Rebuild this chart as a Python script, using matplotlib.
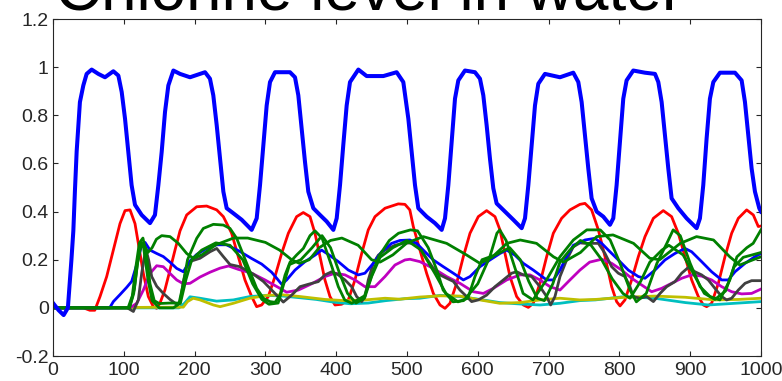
import matplotlib
matplotlib.use("Agg")
import matplotlib.pyplot as plt
import numpy as np

plt.rcParams["font.family"] = ["Liberation Sans", "DejaVu Sans"]

TITLE = "Chlorine level in water"
X_TICKS = [0, 100, 200, 300, 400, 500, 600, 700, 800, 900, 1000]
Y_TICKS = [-0.2, 0, 0.2, 0.4, 0.6, 0.8, 1.0, 1.2]
Y_TICK_LABELS = ["-0.2", "0", "0.2", "0.4", "0.6", "0.8", "1", "1.2"]

# (time step, chlorine level) samples for each monitored node
NODE_MAIN = [
    (0, 0.02), (8, -0.01), (15, -0.03), (21, 0.0), (26, 0.2), (28.7, 0.32), (31, 0.49),
    (33.4, 0.65), (38, 0.855), (42.8, 0.924), (47.5, 0.972), (54.6, 0.99), (64, 0.972),
    (73.4, 0.958), (85.2, 0.983), (92.3, 0.965), (97, 0.897), (101.7, 0.786), (106.4, 0.648),
    (111, 0.51), (115.8, 0.428), (125.2, 0.386), (137, 0.352), (144, 0.386), (148.8, 0.51),
    (153.5, 0.648), (158.2, 0.814), (162.9, 0.924), (170, 0.986), (179.4, 0.972), (193.5, 0.958),
    (214.7, 0.979), (221.7, 0.952), (226.4, 0.883), (231.2, 0.759), (235.9, 0.62), (240.6, 0.483),
    (245.3, 0.414), (254.7, 0.393), (266.5, 0.366), (280.6, 0.324), (287.7, 0.372), (292.4, 0.51),
    (297.1, 0.676), (301.8, 0.841), (306.5, 0.938), (313.6, 0.979), (334.7, 0.979), (341.8, 0.958),
    (346.5, 0.883), (351.2, 0.745), (355.9, 0.607), (360.6, 0.483), (367.7, 0.414), (377.1, 0.386),
    (386.5, 0.359), (396, 0.324), (400.7, 0.372), (405.4, 0.51), (410, 0.676), (414.8, 0.841),
    (419.5, 0.938), (431.3, 0.99), (443, 0.963), (466.6, 0.963), (485.4, 0.979), (494.8, 0.938),
    (501.9, 0.786), (506.6, 0.648), (511.3, 0.51), (516, 0.414), (527.8, 0.379), (539.5, 0.352),
    (549, 0.324), (553.7, 0.372), (558.4, 0.51), (563.1, 0.69), (567.8, 0.869), (572.5, 0.945),
    (581.9, 0.986), (596, 0.979), (603.1, 0.952), (607.8, 0.883), (612.5, 0.759), (617.2, 0.62),
    (621.9, 0.497), (626.6, 0.434), (638.4, 0.4), (650.2, 0.366), (662, 0.331), (666.7, 0.372),
    (671.4, 0.51), (676.1, 0.676), (680.8, 0.841), (685.5, 0.931), (694.9, 0.972), (716.1, 0.958),
    (734.9, 0.977), (742, 0.938), (746.7, 0.855), (751.4, 0.717), (756.1, 0.579), (760.8, 0.455),
    (767.9, 0.4), (777.3, 0.379), (786.7, 0.345), (791.4, 0.372), (796.1, 0.51), (800.8, 0.69),
    (805.5, 0.869), (810.2, 0.945), (819.6, 0.986), (836.1, 0.977), (850.3, 0.972), (855, 0.938),
    (859.7, 0.855), (864.4, 0.717), (869.1, 0.579), (873.8, 0.455), (883.2, 0.414), (895, 0.372),
    (909.1, 0.331), (913.8, 0.372), (918.5, 0.51), (923.2, 0.703), (927.9, 0.869), (932.7, 0.938),
    (942.1, 0.977), (963.3, 0.977), (972.7, 0.945), (977.4, 0.855), (982.1, 0.717), (986.8, 0.579),
    (991.5, 0.483), (997.6, 0.414), (1000, 0.40),
]

NODE_BLUE = [
    (0, 0), (80, 0), (85.2, 0.026), (94.6, 0.055), (104, 0.085), (111.1, 0.11), (118.2, 0.18),
    (125.2, 0.262), (130, 0.272), (137, 0.24), (146.4, 0.226), (155.8, 0.213), (165.2, 0.19),
    (174.7, 0.164), (184.1, 0.15), (193.5, 0.195), (203, 0.222), (217, 0.247), (231.2, 0.262),
    (245, 0.262), (261.7, 0.238), (280.6, 0.205), (294.7, 0.182), (308.8, 0.148), (316, 0.123),
    (323, 0.098), (330, 0.116), (341.8, 0.157), (355.9, 0.192), (370, 0.219), (379.4, 0.24),
    (388.9, 0.222), (403, 0.192), (417.1, 0.157), (431.2, 0.137), (440.6, 0.144), (452.4, 0.185),
    (464.2, 0.233), (478.3, 0.268), (490, 0.28), (504.2, 0.282), (513.6, 0.268), (523, 0.24),
    (537.2, 0.199), (551.3, 0.171), (565.4, 0.144), (579.6, 0.116), (589, 0.13), (603.1, 0.171),
    (617.2, 0.199), (631.3, 0.226), (640.8, 0.24), (652.5, 0.219), (664.3, 0.185), (678.4, 0.157),
    (697.3, 0.116), (706.7, 0.116), (716.1, 0.157), (725.5, 0.213), (735, 0.26), (751.4, 0.282),
    (765.5, 0.289), (775, 0.268), (784.4, 0.24), (798.5, 0.199), (812.6, 0.157), (826.8, 0.13),
    (836.2, 0.123), (850.3, 0.157), (864.4, 0.199), (878.5, 0.226), (892.7, 0.247), (902.1, 0.233),
    (916.2, 0.192), (930.3, 0.15), (944.5, 0.116), (953.9, 0.116), (963.3, 0.15), (977.5, 0.185),
    (991.7, 0.213), (1000, 0.226),
]

NODE_RED = [
    (0, 0), (43, 0), (52, -0.01), (59, -0.01), (66.4, 0.047), (75.8, 0.13), (85.2, 0.24),
    (94.6, 0.35), (101.7, 0.404), (108.8, 0.407), (115.8, 0.35), (120.5, 0.268), (127.6, 0.143),
    (134.6, 0.047), (141.7, 0.005), (146.4, -0.002), (151, 0.019), (158, 0.074), (165.2, 0.157),
    (172.3, 0.24), (179.4, 0.32), (188.8, 0.386), (202.9, 0.42), (217, 0.423), (231.2, 0.407),
    (240.6, 0.379), (252.3, 0.31), (261.7, 0.213), (271.1, 0.116), (280.6, 0.047), (287.6, 0.005),
    (294.7, 0.012), (304.1, 0.047), (313.5, 0.13), (322.9, 0.226), (332.4, 0.31), (344.1, 0.379),
    (353.5, 0.396), (363, 0.379), (370, 0.31), (377.1, 0.213), (384.1, 0.116), (391.2, 0.047),
    (398.3, 0.012), (407.7, 0.015), (417.1, 0.033), (426.5, 0.116), (436, 0.226), (445.3, 0.324),
    (454.8, 0.379), (469, 0.414), (487.7, 0.432), (497.1, 0.43), (504, 0.407), (508.9, 0.338),
    (518.3, 0.24), (527.8, 0.143), (537.2, 0.06), (546.6, 0.012), (553.7, -0.002), (560.7, 0.019),
    (570.1, 0.102), (579.6, 0.213), (589, 0.31), (600.7, 0.379), (612.5, 0.404), (624.3, 0.379),
    (631.3, 0.324), (638.4, 0.226), (645.5, 0.13), (654.9, 0.047), (664.3, 0.012), (671.4, 0.002),
    (678.4, 0.019), (687.8, 0.102), (697.3, 0.213), (706.7, 0.31), (718.4, 0.372), (730.2, 0.407),
    (744.3, 0.43), (751.4, 0.434), (760.8, 0.407), (770.3, 0.324), (779.7, 0.213), (789.1, 0.088),
    (796.1, 0.026), (800.9, 0.008), (807.9, 0.033), (817.3, 0.116), (826.8, 0.213), (836.2, 0.296),
    (848, 0.372), (862, 0.404), (873.8, 0.379), (883.2, 0.31), (892.7, 0.213), (902.1, 0.116),
    (911.5, 0.047), (918.6, 0.012), (923.3, 0.005), (930.3, 0.019), (939.8, 0.102), (949.2, 0.213),
    (958.6, 0.31), (968, 0.372), (979.8, 0.407), (989.2, 0.386), (996.2, 0.338), (1000, 0.34),
]

NODE_MAGENTA = [
    (0, 0), (108.8, 0), (118.2, 0.019), (127.6, 0.074), (137, 0.143), (146.4, 0.175),
    (155.8, 0.171), (165.2, 0.143), (174.7, 0.116), (184.1, 0.1), (193.5, 0.102), (207.6, 0.128),
    (221.7, 0.148), (235.9, 0.165), (248, 0.174), (261.7, 0.16), (280.6, 0.144), (299.4, 0.116),
    (318.2, 0.085), (330, 0.065), (346.5, 0.074), (365.3, 0.1), (384.1, 0.13), (398.3, 0.144),
    (412.4, 0.137), (426.5, 0.116), (440.6, 0.088), (454.8, 0.088), (468.9, 0.13), (483, 0.178),
    (497.1, 0.199), (504.2, 0.202), (518.3, 0.192), (537.2, 0.164), (556, 0.13), (574.8, 0.102),
    (593.7, 0.067), (607.8, 0.06), (621.9, 0.081), (640.8, 0.116), (659.6, 0.137), (673.7, 0.137),
    (687.8, 0.116), (702, 0.088), (716.1, 0.074), (730.2, 0.116), (744.3, 0.157), (758, 0.19),
    (775, 0.202), (789.1, 0.185), (803.2, 0.157), (817.3, 0.123), (831.5, 0.095), (845.6, 0.067),
    (859.7, 0.081), (873.8, 0.102), (888, 0.123), (902.1, 0.137), (916.2, 0.132), (930.3, 0.116),
    (944.5, 0.088), (958.6, 0.067), (972.7, 0.058), (986.8, 0.06), (1000, 0.078),
]

NODE_GREY = [
    (0, 0), (105, 0), (113.5, -0.015), (120.5, 0.033), (125.2, 0.143), (131, 0.245), (135, 0.2),
    (139.4, 0.13), (146.4, 0.09), (155.8, 0.06), (165.2, 0.035), (174.7, 0.015), (179.4, 0.019),
    (184.1, 0.11), (188.8, 0.17), (195.9, 0.195), (207.6, 0.206), (221.7, 0.233), (231.2, 0.247),
    (240, 0.215), (250, 0.18), (264, 0.171), (283, 0.14), (297, 0.11), (311.2, 0.067),
    (325.3, 0.024), (337.1, 0.053), (348.9, 0.088), (360.6, 0.098), (374.7, 0.109), (384.1, 0.137),
    (393.6, 0.15), (403, 0.137), (412.4, 0.116), (421.8, 0.088), (428.9, 0.047), (436, 0.026),
    (440.6, 0.047), (445.3, 0.116), (452.4, 0.185), (459.5, 0.219), (468.9, 0.24), (483, 0.26),
    (497.1, 0.27), (513.6, 0.268), (527.8, 0.205), (541.8, 0.144), (556, 0.123), (565.4, 0.11),
    (574.8, 0.074), (584.3, 0.047), (591.3, 0.026), (600.7, 0.033), (612.5, 0.053), (624.3, 0.088),
    (636.1, 0.116), (647.8, 0.144), (654.9, 0.15), (664.3, 0.137), (676.1, 0.13), (687.8, 0.088),
    (697.3, 0.047), (702.9, 0.012), (709, 0.047), (716.1, 0.13), (725.5, 0.199), (735, 0.254),
    (744.3, 0.27), (751.4, 0.268), (770.3, 0.268), (779.7, 0.226), (789.1, 0.171), (798.5, 0.144),
    (808, 0.13), (815, 0.088), (819.7, 0.047), (829.1, 0.04), (838.5, 0.047), (848, 0.026),
    (857.4, 0.06), (866.8, 0.088), (878.5, 0.109), (888, 0.144), (897.4, 0.168), (906.8, 0.15),
    (916.2, 0.137), (925.6, 0.116), (935, 0.081), (944.5, 0.047), (951.5, 0.033), (958.6, 0.04),
    (968, 0.074), (977.5, 0.102), (986.8, 0.113), (1000, 0.113),
]

NODE_CYAN = [
    (0, 0), (178, 0), (186, 0.02), (193.5, 0.046), (207.6, 0.04), (231, 0.028), (254.7, 0.033),
    (278, 0.047), (302, 0.052), (325, 0.049), (349, 0.042), (372, 0.035), (396, 0.024),
    (420, 0.017), (445, 0.02), (470, 0.03), (497, 0.038), (518, 0.04), (547, 0.052), (575, 0.047),
    (603, 0.035), (631, 0.022), (660, 0.016), (688, 0.012), (716, 0.019), (744, 0.03), (766, 0.033),
    (808, 0.047), (850, 0.04), (893, 0.022), (926, 0.012), (963, 0.019), (1000, 0.026),
]

NODE_YELLOW = [
    (0, 0), (184, 0.003), (190, 0.026), (198, 0.04), (207.6, 0.033), (226.5, 0.012), (236, 0.005),
    (254.7, 0.019), (278, 0.04), (302, 0.052), (325, 0.054), (349, 0.047), (384, 0.035),
    (412, 0.03), (441, 0.033), (469, 0.04), (490, 0.036), (518, 0.045), (547, 0.05), (575, 0.049),
    (603, 0.033), (631, 0.019), (660, 0.022), (688, 0.033), (716, 0.04), (744, 0.033), (766, 0.035),
    (808, 0.044), (850, 0.049), (893, 0.044), (935, 0.033), (968, 0.035), (1000, 0.04),
]

NODE_GREEN_A = [
    (0, 0), (108, 0), (114, 0.06), (119, 0.18), (125, 0.27), (129, 0.26), (134, 0.23),
    (140, 0.25), (146, 0.285), (153.5, 0.3), (165.3, 0.296), (177, 0.268), (188.8, 0.226),
    (198.2, 0.206), (210, 0.22), (230, 0.262), (255, 0.29), (275, 0.29), (300, 0.272),
    (320, 0.24), (337, 0.2), (348, 0.185), (362, 0.2), (376, 0.25), (392, 0.28), (408, 0.29),
    (431, 0.26), (450, 0.2), (462, 0.19), (480, 0.22), (500, 0.27), (523, 0.296), (556, 0.268),
    (584, 0.22), (603, 0.185), (620, 0.21), (641, 0.268), (660, 0.282), (683, 0.268), (707, 0.212),
    (721, 0.19), (745, 0.23), (768, 0.296), (791, 0.303), (820, 0.268), (843, 0.206), (857, 0.2),
    (886, 0.268), (909, 0.296), (933, 0.282), (956, 0.212), (970, 0.178), (989, 0.2), (1000, 0.212),
]

NODE_GREEN_B = [
    (0, 0), (106, 0), (112, 0.05), (117, 0.17), (122, 0.27), (127, 0.29), (132, 0.22),
    (137, 0.1), (143, 0.03), (150, 0.018), (165, 0.02), (178, 0.02), (184, 0.1), (190, 0.2),
    (203, 0.289), (212.3, 0.33), (226.5, 0.347), (240.6, 0.344), (250, 0.33), (259.4, 0.289),
    (268.8, 0.22), (278.3, 0.15), (287.7, 0.081), (297.1, 0.04), (306.5, 0.026), (313.6, 0.023),
    (320.6, 0.053), (327.7, 0.136), (334.8, 0.19), (344.2, 0.22), (353.6, 0.247), (363, 0.3),
    (370, 0.32), (380, 0.29), (394, 0.17), (403, 0.088), (412, 0.033), (422, 0.019), (440, 0.05),
    (452, 0.15), (460, 0.213), (475, 0.28), (488, 0.31), (505, 0.324), (515, 0.32), (530, 0.25),
    (543, 0.15), (551, 0.074), (565, 0.025), (580, 0.03), (600, 0.1), (617, 0.212), (627, 0.31),
    (631, 0.324), (640, 0.28), (655, 0.143), (664, 0.06), (678, 0.033), (697, 0.116),
    (716, 0.212), (735, 0.282), (754, 0.324), (773, 0.324), (787, 0.282), (801, 0.185),
    (815, 0.074), (824, 0.025), (838, 0.06), (853, 0.185), (867, 0.268), (876, 0.324), (886, 0.3),
    (900, 0.185), (914, 0.088), (928, 0.047), (942, 0.033), (956, 0.116), (966, 0.212),
    (980, 0.25), (989, 0.268), (1000, 0.324),
]

NODE_GREEN_C = [
    (0, 0), (108, 0), (115, 0.08), (120, 0.2), (124, 0.27), (128, 0.25), (134, 0.12), (140, 0.03),
    (150, 0.0), (170, 0.0), (180, 0.02), (188, 0.12), (196, 0.2), (210, 0.24), (230, 0.27),
    (250, 0.26), (268, 0.2), (282, 0.1), (295, 0.035), (305, 0.015), (318, 0.02), (326, 0.1),
    (334, 0.18), (350, 0.2), (366, 0.25), (380, 0.3), (392, 0.25), (404, 0.15), (416, 0.06),
    (428, 0.02), (440, 0.04), (450, 0.13), (462, 0.21), (480, 0.25), (500, 0.28), (520, 0.24),
    (540, 0.14), (555, 0.06), (572, 0.025), (586, 0.04), (596, 0.13), (606, 0.2), (625, 0.22),
    (645, 0.25), (660, 0.2), (672, 0.11), (684, 0.04), (694, 0.03), (706, 0.1), (716, 0.19),
    (730, 0.24), (745, 0.28), (760, 0.26), (775, 0.2), (790, 0.12), (805, 0.06), (815, 0.04),
    (830, 0.11), (843, 0.19), (860, 0.24), (870, 0.26), (890, 0.22), (905, 0.14), (920, 0.06),
    (935, 0.035), (950, 0.07), (962, 0.17), (975, 0.21), (1000, 0.23),
]

SERIES = [
    (NODE_RED, (1.0, 0.0, 0.0), 2.0),
    (NODE_CYAN, (0.0, 0.75, 0.75), 2.0),
    (NODE_YELLOW, (0.75, 0.75, 0.0), 2.0),
    (NODE_MAGENTA, (0.75, 0.0, 0.75), 2.0),
    (NODE_GREY, (0.25, 0.25, 0.25), 2.0),
    (NODE_BLUE, (0.0, 0.0, 1.0), 2.0),
    (NODE_GREEN_C, (0.0, 0.5, 0.0), 2.0),
    (NODE_GREEN_B, (0.0, 0.5, 0.0), 2.0),
    (NODE_GREEN_A, (0.0, 0.5, 0.0), 2.0),
    (NODE_MAIN, (0.0, 0.0, 1.0), 2.9),
]

fig = plt.figure(figsize=(7.82, 3.81), dpi=100)
ax = fig.add_axes([0.0678, 0.0656, 0.9053, 0.8845])

for points, color, width in SERIES:
    xs, ys = np.array(points).T
    ax.plot(xs, ys, color=color, linewidth=width)

ax.set_xlim(0, 1000)
ax.set_ylim(-0.2, 1.2)
ax.set_xticks(X_TICKS)
ax.set_xticklabels([str(t) for t in X_TICKS])
ax.set_yticks(Y_TICKS)
ax.set_yticklabels(Y_TICK_LABELS)
ax.tick_params(direction="in", length=3.6, width=0.8, top=True, right=True,
               labelsize=14, colors="#262626")
ax.tick_params(axis="x", pad=4.5)
ax.tick_params(axis="y", pad=3)
for spine in ax.spines.values():
    spine.set_linewidth(0.8)
    spine.set_color("#262626")

fig.text(0.0703, 1 - 10 / 381, TITLE, fontsize=46, ha="left", va="baseline", color="black")

fig.savefig("out.png", dpi=100)
